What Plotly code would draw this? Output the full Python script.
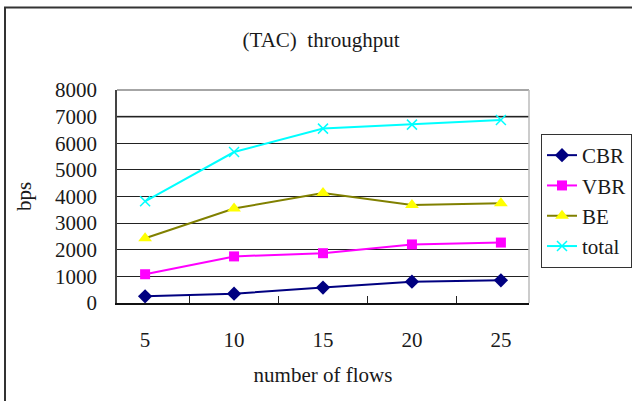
import plotly.graph_objects as go

# Throughput per traffic class vs. number of flows
flows = ["5", "10", "15", "20", "25"]
cbr = [250, 350, 580, 800, 850]
vbr = [1080, 1750, 1870, 2200, 2270]
be = [2430, 3550, 4130, 3680, 3750]
total = [3820, 5670, 6550, 6700, 6870]
y_ticks = [0, 1000, 2000, 3000, 4000, 5000, 6000, 7000, 8000]

W, H = 632, 401
L, R, T, B = 117, 103, 90, 98
pw, ph = W - L - R, H - T - B


def px_x(p):
    return (p - L) / pw


def px_y(p):
    return (H - B - p) / ph


FONT = "Liberation Serif, Times New Roman, serif"
FS = 21
TXT = "#1a1a1a"

fig = go.Figure()
fig.add_trace(go.Scatter(
    x=flows, y=cbr, name="CBR", mode="lines+markers",
    line=dict(color="#000080", width=2),
    marker=dict(symbol="diamond", size=11, color="#000080"),
))
fig.add_trace(go.Scatter(
    x=flows, y=vbr, name="VBR", mode="lines+markers",
    line=dict(color="#FF00FF", width=2),
    marker=dict(symbol="square", size=10, color="#FF00FF"),
))
fig.add_trace(go.Scatter(
    x=flows, y=be, name="BE", mode="lines+markers",
    line=dict(color="#808000", width=2),
    marker=dict(symbol="triangle-up", size=12, color="#FFFF00"),
))
fig.add_trace(go.Scatter(
    x=flows, y=total, name="total", mode="lines+markers",
    line=dict(color="#00FFFF", width=2),
    marker=dict(symbol="x-thin", size=10, color="#00FFFF",
                line=dict(color="#00FFFF", width=1.5)),
))

shapes = [
    # outer chart frame
    dict(type="rect", xref="paper", yref="paper",
         x0=px_x(5), x1=px_x(700), y0=px_y(500), y1=px_y(7.5),
         line=dict(color="#333333", width=2), layer="below"),
    # top and right plot-area borders
    dict(type="line", xref="paper", yref="paper", x0=0, x1=1, y0=1, y1=1,
         line=dict(color="#888888", width=1.5)),
    dict(type="line", xref="paper", yref="paper", x0=1, x1=1, y0=0, y1=1,
         line=dict(color="#BBBBBB", width=1.5)),
    # emphasised 7000 gridline
    dict(type="line", xref="paper", yref="y", x0=0, x1=1, y0=7000, y1=7000,
         line=dict(color="#777777", width=2), layer="between"),
]

fig.update_layout(
    width=W, height=H,
    margin=dict(l=L, r=R, t=T, b=B, autoexpand=False),
    paper_bgcolor="white", plot_bgcolor="white",
    font=dict(family=FONT, size=FS, color=TXT),
    title=dict(text="(TAC)  throughput", x=321 / W,
               xanchor="center", y=1 - 40 / H, yanchor="middle",
               font=dict(family=FONT, size=FS, color=TXT)),
    xaxis=dict(
        type="category", categoryorder="array", categoryarray=flows,
        tickson="boundaries", ticks="inside", ticklen=7, tickcolor="#222222",
        tickwidth=1, showline=True, linecolor="#111111", linewidth=2,
        showgrid=False, ticklabelstandoff=17,
        tickfont=dict(family=FONT, size=FS, color=TXT),
        title=dict(text="number of flows", standoff=16,
                   font=dict(family=FONT, size=FS, color=TXT)),
    ),
    yaxis=dict(
        range=[0, 8000], tickvals=y_ticks, ticks="inside", ticklen=4,
        tickcolor="#222222", showline=True, linecolor="#444444", linewidth=1.5,
        showgrid=True, gridcolor="#222222", gridwidth=1, zeroline=False,
        ticklabelstandoff=14,
        tickfont=dict(family=FONT, size=FS, color=TXT),
        title=dict(text="bps", standoff=18,
                   font=dict(family=FONT, size=FS, color=TXT)),
    ),
    legend=dict(
        x=px_x(541), y=px_y(134), xanchor="left", yanchor="top",
        bordercolor="#333333", borderwidth=1, bgcolor="white",
        font=dict(family=FONT, size=FS, color=TXT),
        itemwidth=30, tracegroupgap=2,
    ),
    shapes=shapes,
    showlegend=True,
)

fig.write_html("out.html")
